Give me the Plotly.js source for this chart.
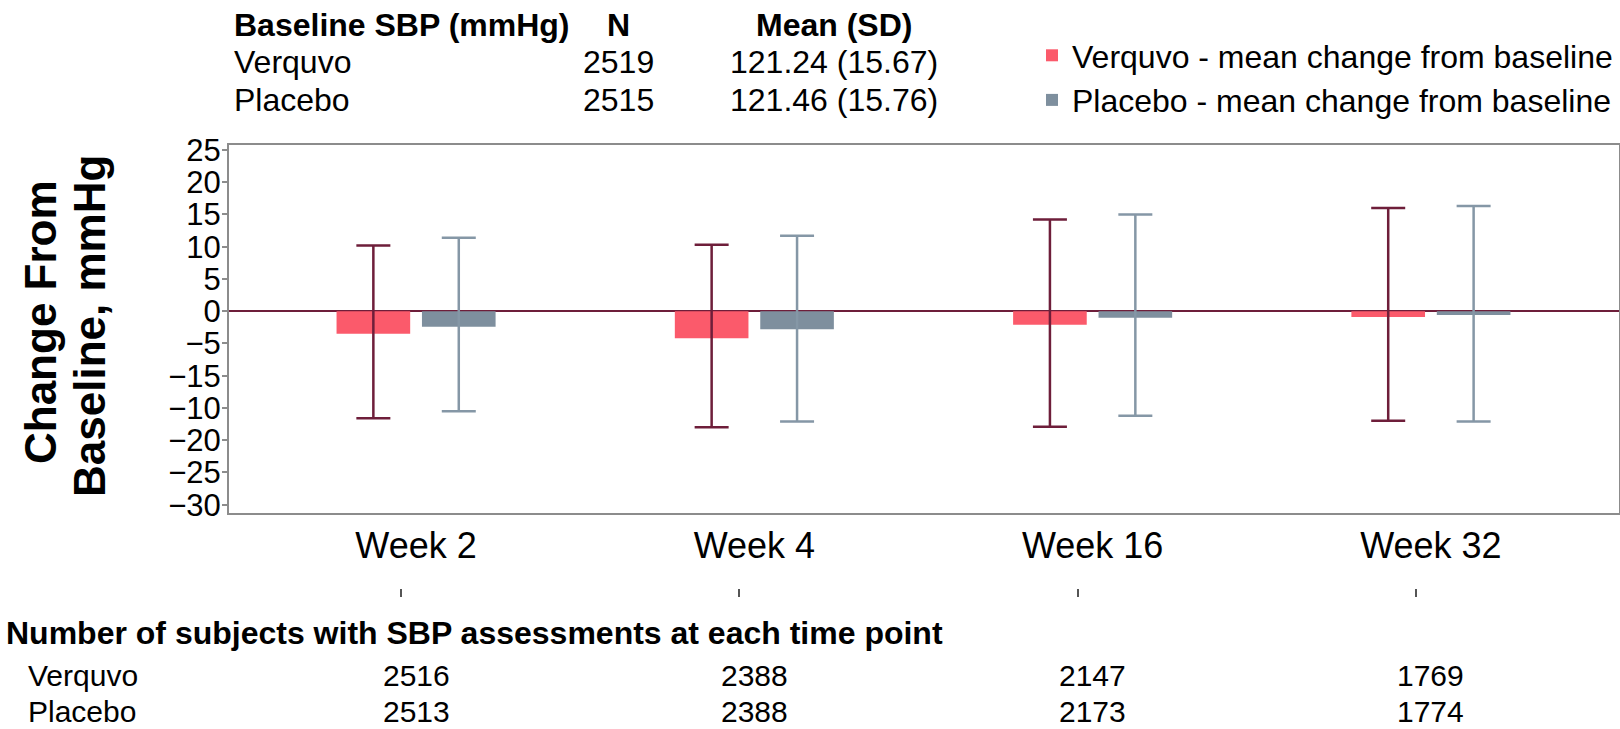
<!DOCTYPE html>
<html><head><meta charset="utf-8">
<script src="https://cdn.plot.ly/plotly-3.0.1.min.js"></script>
<style>html,body{margin:0;padding:0;background:#fff}#chart{width:1620px;height:729px}</style>
</head><body><div id="chart"></div>
<script>
// ---- data ----
const weeks = ["Week 2", "Week 4", "Week 16", "Week 32"];
const verquvoMean  = [-3.5, -4.2, -2.1, -0.9];
const verquvoUpper = [10.2, 10.3, 14.2, 16.0];
const verquvoLower = [-16.6, -18.0, -17.9, -17.0];
const placeboMean  = [-2.4, -2.8, -1.0, -0.6];
const placeboUpper = [11.4, 11.7, 15.0, 16.3];
const placeboLower = [-15.5, -17.1, -16.2, -17.1];
const yTickVals = [25, 20, 15, 10, 5, 0, -5, -10, -15, -20, -25, -30];
const yTickText = ["25", "20", "15", "10", "5", "0", "\u22125", "\u221215", "\u221210", "\u221220", "\u221225", "\u221230"];
const seriesNames = ["Verquvo - mean change from baseline", "Placebo - mean change from baseline"];
const groupNames = ["Verquvo", "Placebo"];
const baselineHeader = ["Baseline SBP (mmHg)", "N", "Mean (SD)"];
const baselineN = [2519, 2515];
const baselineMeanSD = ["121.24 (15.67)", "121.46 (15.76)"];
const countsTitle = "Number of subjects with SBP assessments at each time point";
const verquvoCount = [2516, 2388, 2147, 1769];
const placeboCount = [2513, 2388, 2173, 1774];

// ---- geometry helpers (pixel -> paper) ----
const L = 229, R = 1619, T = 145, PB = 588, PW = R - L, PH = PB - T;
const px = x => (x - L) / PW;
const py = y => (PB - y) / PH;
const FONT = "Liberation Sans, Arial, Helvetica, sans-serif";
const TS = 32;

const up = (m, u) => u.map((v, i) => v - m[i]);
const dn = (m, l) => l.map((v, i) => m[i] - v);

const traces = [
  {
    type: "bar", name: seriesNames[0], x: weeks, y: verquvoMean,
    marker: {color: "#FB5A6B"},
    error_y: {type: "data", symmetric: false, array: up(verquvoMean, verquvoUpper),
      arrayminus: dn(verquvoMean, verquvoLower), color: "#6E1E3A", thickness: 2.5, width: 17}
  },
  {
    type: "bar", name: seriesNames[1], x: weeks, y: placeboMean,
    marker: {color: "#7E8F9E"},
    error_y: {type: "data", symmetric: false, array: up(placeboMean, placeboUpper),
      arrayminus: dn(placeboMean, placeboLower), color: "#8597A6", thickness: 2.5, width: 17}
  },
  {
    type: "scatter", mode: "markers", x: weeks, y: verquvoMean, xaxis: "x2", yaxis: "y",
    marker: {opacity: 0}, showlegend: false, hoverinfo: "skip"
  }
];

const ann = [];
// header table
const hdrX = [232, 618, 834];
const hdrAnchor = ["left", "center", "center"];
baselineHeader.forEach((t, i) => ann.push({
  xref: "paper", yref: "paper", x: px(hdrX[i]), y: py(25), xanchor: hdrAnchor[i], yanchor: "middle",
  text: "<b>" + t + "</b>", showarrow: false, font: {size: TS, color: "#000"}
}));
groupNames.forEach((g, r) => {
  const yy = py(62 + r * 37.5);
  ann.push({xref: "paper", yref: "paper", x: px(hdrX[0]), y: yy, xanchor: "left", yanchor: "middle",
    text: g, showarrow: false, font: {size: TS, color: "#000"}});
  ann.push({xref: "paper", yref: "paper", x: px(hdrX[1]), y: yy, xanchor: "center", yanchor: "middle",
    text: String(baselineN[r]), showarrow: false, font: {size: TS, color: "#000"}});
  ann.push({xref: "paper", yref: "paper", x: px(hdrX[2]), y: yy, xanchor: "center", yanchor: "middle",
    text: baselineMeanSD[r], showarrow: false, font: {size: TS, color: "#000"}});
});
// y title (two lines)
ann.push({xref: "paper", yref: "paper", x: px(40), y: py(322), xanchor: "center", yanchor: "middle",
  textangle: -90, text: "<b>Change From</b>", showarrow: false, font: {size: 44, color: "#000"}});
ann.push({xref: "paper", yref: "paper", x: px(89), y: py(326), xanchor: "center", yanchor: "middle",
  textangle: -90, text: "<b>Baseline, mmHg</b>", showarrow: false, font: {size: 44, color: "#000"}});
// bottom table
ann.push({xref: "paper", yref: "paper", x: px(4), y: py(633), xanchor: "left", yanchor: "middle",
  text: "<b>" + countsTitle + "</b>", showarrow: false, font: {size: TS, color: "#000"}});
const rowY = [py(675), py(729)];
const rowAnchor = ["middle", "bottom"];
const RS = 30;
[verquvoCount, placeboCount].forEach((arr, r) => {
  ann.push({xref: "paper", yref: "paper", x: px(27), y: rowY[r], xanchor: "left", yanchor: rowAnchor[r],
    text: groupNames[r], showarrow: false, borderpad: 0, font: {size: RS, color: "#000"}});
  arr.forEach((v, i) => ann.push({xref: "x", yref: "paper", x: weeks[i], y: rowY[r], xanchor: "center", yanchor: rowAnchor[r],
    text: String(v), showarrow: false, borderpad: 0, font: {size: RS, color: "#000"}}));
});

const layout = {
  width: 1620, height: 729,
  paper_bgcolor: "#fff", plot_bgcolor: "#fff",
  font: {family: FONT, color: "#000"},
  margin: {l: L, r: 1620 - R, t: T, b: 729 - PB, pad: 0},
  barmode: "group", bargap: 0.495, bargroupgap: 0.138,
  showlegend: true,
  legend: {x: px(1032), y: py(28), xanchor: "left", yanchor: "top", font: {size: 32, color: "#000"},
    bgcolor: "rgba(0,0,0,0)", tracegroupgap: 0},
  xaxis: {
    type: "category", categoryarray: weeks, range: [-0.553, 3.556],
    showline: true, linecolor: "#8C8C8C", linewidth: 2, mirror: true,
    ticks: "", showgrid: false, zeroline: false, tickfont: {size: 36, color: "#000"}
  },
  xaxis2: {
    type: "category", categoryarray: weeks, overlaying: "x", anchor: "free", position: 0,
    range: [-0.509, 3.600], ticks: "outside", ticklen: 8, tickwidth: 2, tickcolor: "#555",
    showticklabels: false, showline: false, showgrid: false, zeroline: false
  },
  yaxis: {
    domain: [py(513), 1], range: [-31.29, 25.77],
    tickmode: "array", tickvals: yTickVals, ticktext: yTickText,
    ticks: "outside", ticklen: 5, tickwidth: 2, tickcolor: "#8C8C8C", ticklabelstandoff: -5,
    showline: true, linecolor: "#8C8C8C", linewidth: 2, mirror: true,
    showgrid: false, zeroline: true, zerolinecolor: "#6E1E3A", zerolinewidth: 2.5,
    tickfont: {size: 31, color: "#000"}
  },
  annotations: ann
};

Plotly.newPlot("chart", traces, layout, {staticPlot: true, displayModeBar: false});
</script>
</body></html>
